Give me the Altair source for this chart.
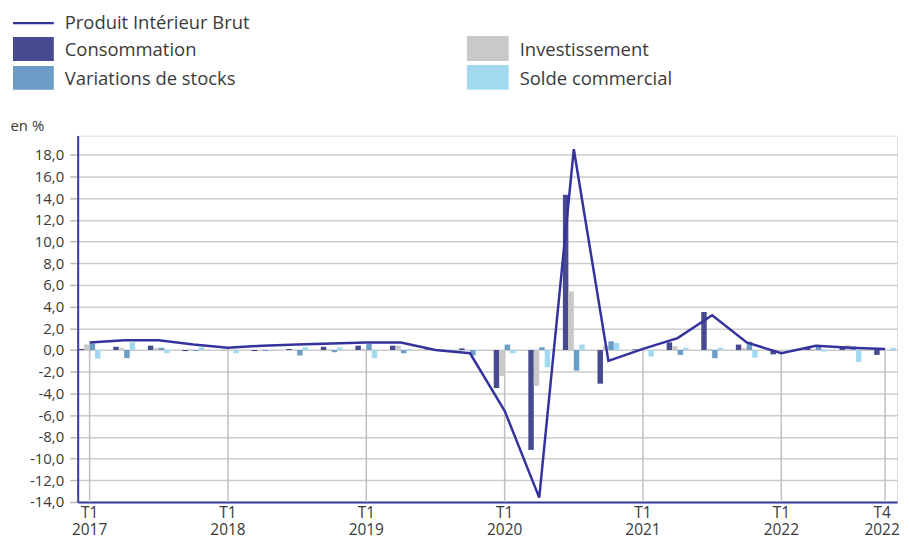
import altair as alt
import pandas as pd

# ---------------- data ----------------
quarters = [f"{y} T{q}" for y in range(2017, 2023) for q in range(1, 5)]

pib = [0.7, 0.9, 0.9, 0.5, 0.2, 0.4, 0.5, 0.6, 0.7, 0.7, 0.0, -0.3,
       -5.6, -13.6, 18.5, -1.0, 0.1, 1.1, 3.2, 0.7, -0.3, 0.4, 0.2, 0.1]

consommation = [0.1, 0.3, 0.4, -0.1, 0.0, -0.1, 0.1, 0.3, 0.4, 0.4, 0.05, 0.15,
                -3.5, -9.2, 14.3, -3.1, 0.05, 0.7, 3.5, 0.5, -0.4, 0.2, 0.2, -0.45]
investissement = [0.5, 0.2, 0.2, 0.1, 0.1, 0.0, 0.05, 0.05, 0.1, 0.4, 0.05, 0.0,
                  -2.4, -3.3, 5.4, 0.4, 0.1, 0.35, 0.1, 0.2, 0.0, 0.1, 0.45, 0.0]
stocks = [0.6, -0.75, 0.2, -0.1, 0.0, -0.1, -0.5, -0.2, 0.55, -0.3, -0.05, -0.5,
          0.5, 0.25, -1.9, 0.8, 0.0, -0.45, -0.75, 0.75, 0.0, 0.35, 0.35, 0.0]
solde = [-0.8, 0.7, -0.3, 0.25, -0.3, -0.05, 0.25, 0.25, -0.75, 0.1, 0.0, -0.1,
         -0.3, -1.6, 0.5, 0.65, -0.6, 0.2, 0.2, -0.7, 0.0, -0.15, -1.1, 0.2]

series_names = ["Consommation", "Investissement", "Variations de stocks", "Solde commercial"]
series_colors = ["#464a8f", "#c9c9c9", "#6b9dc6", "#a2d9f0"]
line_name = "Produit Intérieur Brut"
line_color = "#34339c"

tick_quarters = ["2017 T1", "2018 T1", "2019 T1", "2020 T1", "2021 T1", "2022 T1", "2022 T4"]
y_ticks = list(range(-14, 19, 2))

# ---------------- tables ----------------
bars_rows = []
for name, vals in zip(series_names, [consommation, investissement, stocks, solde]):
    for q, v in zip(quarters, vals):
        bars_rows.append({"q": q, "serie": name, "value": v})
bars_df = pd.DataFrame(bars_rows)
line_df = pd.DataFrame({"q": quarters, "pib": pib})
rules_df = pd.DataFrame({"q": tick_quarters})

FONT = "Open Sans"
TXT = "#3a3a3a"
AXIS_BLUE = "#3a3a9c"

x_scale = alt.Scale(domain=quarters, paddingInner=0.37, paddingOuter=0.03)
x_axis = alt.Axis(
    values=tick_quarters,
    labelExpr="[split(datum.value, ' ')[1], split(datum.value, ' ')[0]]",
    ticks=False, grid=False, labelAngle=0,
    domainColor=AXIS_BLUE, domainWidth=2,
    labelFont=FONT, labelFontSize=15.5, labelColor=TXT,
    labelPadding=4, labelLineHeight=17,
    labelOffset={"condition": {"test": "datum.value === '2022 T4'", "value": -3}, "value": 0},
    labelOverlap=False, labelBound=False, labelFlush=False,
)


def x_enc():
    return alt.X("q:O", scale=x_scale, axis=x_axis, title=None)


y_scale = alt.Scale(domain=[-14, 19.75], nice=False, zero=False)
y_axis = alt.Axis(
    values=y_ticks,
    labelExpr="replace(replace(format(datum.value, '.1f'), '.', ','), '\u2212', '-')",
    labelOverlap=False, labelBound=False, labelFlush=False,
    grid=True, gridColor="#cccccc", gridWidth=1.5,
    tickColor="#bbbbbb", tickSize=8, tickWidth=1.5,
    domainColor=AXIS_BLUE, domainWidth=2,
    labelFont=FONT, labelFontSize=15, labelColor=TXT, labelPadding=6,
    title="en %", titleAngle=0, titleAlign="left", titleBaseline="alphabetic",
    titleX=-68, titleY=-5, titleFont=FONT, titleFontSize=15,
    titleFontWeight="normal", titleColor=TXT,
)


def y_enc(field):
    return alt.Y(f"{field}:Q", scale=y_scale, axis=y_axis, title="en %")


bars = alt.Chart(bars_df).mark_bar(size=5.5).encode(
    x=x_enc(),
    xOffset=alt.XOffset("serie:N", sort=series_names,
                        scale=alt.Scale(domain=series_names, paddingInner=0, paddingOuter=0)),
    y=y_enc("value"),
    color=alt.Color("serie:N", scale=alt.Scale(domain=series_names, range=series_colors), legend=None),
)

rules = alt.Chart(rules_df).mark_rule(color="#c0c0c0", strokeWidth=1.5).encode(
    x=x_enc(),
    y=alt.YDatum(0, scale=y_scale, axis=y_axis, title="en %"),
    y2=alt.Y2Datum(-14),
)

line = alt.Chart(line_df).mark_line(color=line_color, strokeWidth=2.5).encode(
    x=x_enc(), y=y_enc("pib")
)

# ---------------- legend (drawn manually, pixel positions relative to plot area) ----------------
one = alt.Data(values=[{}])
LEG_FS = 18.5
legend_layers = []
legend_layers.append(
    alt.Chart(one).mark_rule(color=line_color, strokeWidth=2.5).encode(
        x=alt.value(-65), x2=alt.value(-24), y=alt.value(-113))
)
legend_layers.append(
    alt.Chart(one).mark_text(align="left", baseline="middle", font=FONT, fontSize=LEG_FS, color=TXT).encode(
        x=alt.value(-13), y=alt.value(-113), text=alt.value(line_name))
)
swatches = [
    (series_names[0], series_colors[0], -65, -24, -99, -75, -13, -86),
    (series_names[2], series_colors[2], -65, -24, -70, -46, -13, -57),
    (series_names[1], series_colors[1], 391, 433, -100, -75, 444, -86),
    (series_names[3], series_colors[3], 391, 433, -71, -46, 444, -57),
]
for name, col, x1, x2, y1, y2, tx, ty in swatches:
    legend_layers.append(
        alt.Chart(one).mark_rect(color=col).encode(
            x=alt.value(x1), x2=alt.value(x2), y=alt.value(y1), y2=alt.value(y2))
    )
    legend_layers.append(
        alt.Chart(one).mark_text(align="left", baseline="middle", font=FONT, fontSize=LEG_FS, color=TXT).encode(
            x=alt.value(tx), y=alt.value(ty), text=alt.value(name))
    )

chart = alt.layer(rules, bars, line, *legend_layers).properties(
    width=823, height=368,
    padding={"left": 70, "top": 127, "right": 4, "bottom": 39},
    autosize=alt.AutoSizeParams(type="none"),
).configure_view(stroke=None).configure_axisY(labelOverlap=False).configure(background="white")

chart.save("out.html", embed_options={"renderer": "svg", "actions": False})
